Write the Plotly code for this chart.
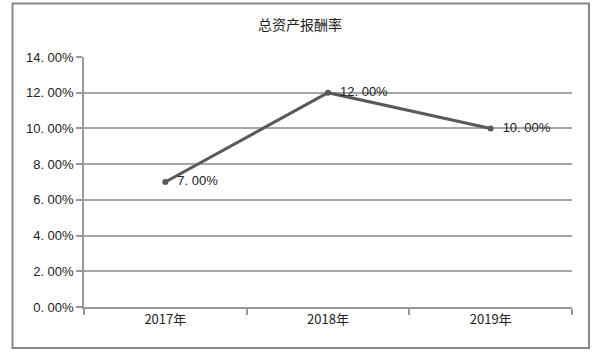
import plotly.graph_objects as go

categories = ["2017年", "2018年", "2019年"]
values = [0.07, 0.12, 0.10]
tick_values = [0.0, 0.02, 0.04, 0.06, 0.08, 0.10, 0.12, 0.14]

def fmt(v):
    return ("%.2f%%" % (v * 100)).replace(".", ". ")

tick_text = [fmt(v) for v in tick_values]
label_text = ["\u00a0\u00a0" + fmt(v) for v in values]

W, H = 609, 355
L, R, T, B = 84, 37, 57, 48
pw, ph = W - L - R, H - T - B

FONT = "Liberation Sans, Noto Sans CJK SC, sans-serif"

fig = go.Figure()
fig.add_trace(go.Scatter(
    x=categories, y=values, mode="lines+markers+text",
    line=dict(color="#595959", width=3),
    marker=dict(color="#595959", size=6),
    text=label_text, textposition="middle right",
    textfont=dict(family=FONT, size=13, color="#222222"),
    cliponaxis=False, showlegend=False, hoverinfo="skip",
))

def px_x(x):
    return (x - L) / pw

def px_y(y):
    return (H - B - y) / ph

fig.add_shape(type="rect", xref="paper", yref="paper",
              x0=px_x(12.5), x1=px_x(589), y0=px_y(348), y1=px_y(3.5),
              line=dict(color="#888888", width=2), fillcolor="rgba(0,0,0,0)", layer="below")

fig.update_layout(
    width=W, height=H,
    margin=dict(l=L, r=R, t=T, b=B),
    paper_bgcolor="white", plot_bgcolor="white",
    font=dict(family=FONT, size=13, color="#222222"),
    title=dict(text="总资产报酬率", x=300 / W, xref="container", xanchor="center",
               y=1 - 25 / H, yref="container", yanchor="middle",
               font=dict(family="Noto Sans CJK SC, sans-serif", size=14, color="#222222")),
    xaxis=dict(type="category", range=[-0.5, 2.5], tickson="boundaries",
               ticks="outside", ticklen=6, tickcolor="#999999", tickwidth=1.5,
               showline=True, linecolor="#999999", linewidth=1.5,
               showgrid=False, fixedrange=True,
               tickfont=dict(family="Noto Sans CJK SC, sans-serif", size=13)),
    yaxis=dict(range=[0, 0.14], tickvals=tick_values, ticktext=tick_text,
               ticks="outside", ticklen=6, tickcolor="#999999", tickwidth=1.5,
               showline=True, linecolor="#999999", linewidth=1.5,
               showgrid=True, gridcolor="#a6a6a6", gridwidth=1.5,
               zeroline=False, fixedrange=True, tickfont=dict(size=13)),
)

fig.write_html("out.html", config={"displayModeBar": False},
               post_script="document.body.style.margin='0';")
